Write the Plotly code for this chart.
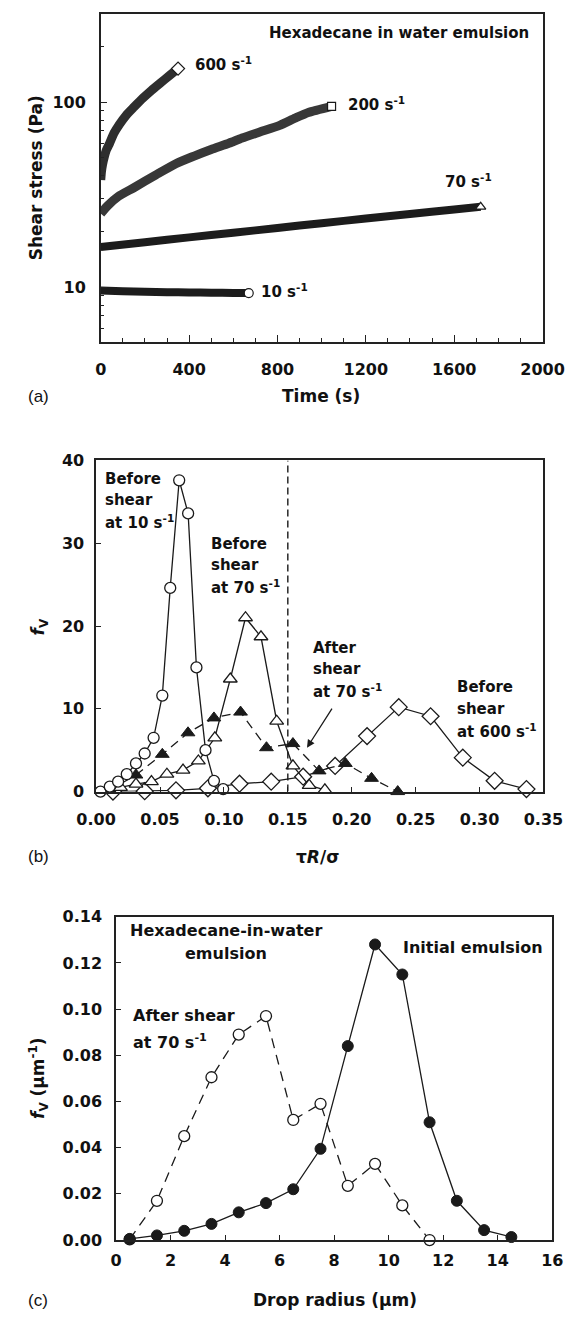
import math
import plotly.graph_objects as go

# ---------------- Panel (a): shear stress vs time ----------------
TIME_600 = [0, 3, 8, 15, 25, 40, 60, 85, 115, 150, 190, 230, 270, 310, 350]
STRESS_600 = [38, 42, 46, 50, 55, 60, 68, 76, 85, 94, 105, 116, 127, 139, 152]
TIME_200 = [0, 30, 80, 150, 250, 340, 420, 500, 580, 640, 720, 810, 880, 940, 1045]
STRESS_200 = [25, 27.5, 31, 34.5, 40.5, 46.5, 51, 55.5, 60, 64, 69, 75, 82, 88, 95]
TIME_70 = [0, 200, 400, 600, 800, 1000, 1200, 1400, 1600, 1720]
STRESS_70 = [16.5, 17.5, 18.6, 19.7, 20.9, 22.2, 23.5, 24.9, 26.3, 27.2]
TIME_10 = [0, 100, 200, 300, 400, 500, 600, 670]
STRESS_10 = [9.6, 9.5, 9.45, 9.4, 9.38, 9.35, 9.32, 9.3]
A_XTICKS = [0, 400, 800, 1200, 1600, 2000]
A_YTICKS = [10, 100]
A_YMINOR = [6, 7, 8, 9, 20, 30, 40, 50, 60, 70, 80, 90, 200]

# ---------------- Panel (b): f_V vs tau R / sigma ----------------
B10_X = [0.0034, 0.0107, 0.0172, 0.024, 0.0312, 0.038, 0.045, 0.0518, 0.058, 0.065, 0.072, 0.0785, 0.0856, 0.0922, 0.0994]
B10_Y = [0, 0.6, 1.2, 2.1, 3.4, 4.6, 6.5, 11.6, 24.6, 37.6, 33.6, 15.0, 5.0, 1.3, 0.3]
B70_X = [0.0191, 0.0312, 0.0433, 0.0554, 0.068, 0.080, 0.0929, 0.105, 0.1169, 0.129, 0.1413, 0.154, 0.1667, 0.179]
B70_Y = [0.5, 0.9, 1.2, 2.1, 2.6, 3.7, 6.5, 13.6, 21.0, 18.7, 8.5, 3.1, 0.75, 0.2]
A70_X = [0.0107, 0.0312, 0.0518, 0.0719, 0.0922, 0.113, 0.1333, 0.154, 0.1745, 0.195, 0.2155, 0.236]
A70_Y = [0.2, 2.0, 4.5, 7.1, 8.9, 9.6, 5.3, 5.8, 2.5, 3.4, 1.6, 0.0]
B600_X = [0.0132, 0.038, 0.0625, 0.0875, 0.1122, 0.137, 0.162, 0.187, 0.212, 0.2368, 0.2617, 0.2869, 0.3118, 0.3367]
B600_Y = [0.0, 0.05, 0.15, 0.4, 0.95, 1.2, 1.8, 3.1, 6.7, 10.2, 9.1, 4.1, 1.3, 0.3]
CRITICAL_X = 0.15
B_XTICKS = [0.00, 0.05, 0.10, 0.15, 0.20, 0.25, 0.30, 0.35]
B_YTICKS = [0, 10, 20, 30, 40]

# ---------------- Panel (c): f_V vs drop radius ----------------
RADIUS = [0.5, 1.5, 2.5, 3.5, 4.5, 5.5, 6.5, 7.5, 8.5, 9.5, 10.5, 11.5, 12.5, 13.5, 14.5]
FV_INITIAL = [0.0005, 0.002, 0.004, 0.007, 0.012, 0.016, 0.022, 0.0395, 0.084, 0.128, 0.115, 0.051, 0.017, 0.0043, 0.0013]
RADIUS_SHEAR = [0.5, 1.5, 2.5, 3.5, 4.5, 5.5, 6.5, 7.5, 8.5, 9.5, 10.5, 11.5]
FV_SHEAR = [0.0003, 0.017, 0.045, 0.0705, 0.089, 0.097, 0.052, 0.059, 0.0235, 0.033, 0.015, 0.0]
C_XTICKS = [0, 2, 4, 6, 8, 10, 12, 14, 16]
C_YTICKS = [0.00, 0.02, 0.04, 0.06, 0.08, 0.10, 0.12, 0.14]

W, H = 584, 1322
INK = "#1a1a1a"
FAM = "DejaVu Sans"


def fx(p):
    return p / W


def fy(p):
    return 1 - p / H


fig = go.Figure()

# ---- panel (a) traces: dense measurement bands + open end marker
bands = [
    (TIME_600, STRESS_600, "#2e2e2e", 9, "diamond", 10),
    (TIME_200, STRESS_200, "#383838", 9, "square", 8),
    (TIME_70, STRESS_70, "#1c1c1c", 8, "triangle-up", 9),
    (TIME_10, STRESS_10, "#1c1c1c", 8, "circle", 9),
]
for t, s, col, w, sym, ms in bands:
    fig.add_trace(go.Scatter(x=t, y=s, mode="lines", line=dict(color=col, width=w, shape="spline", smoothing=0.6),
                             xaxis="x", yaxis="y", showlegend=False, hoverinfo="skip"))
    fig.add_trace(go.Scatter(x=t[-1:], y=s[-1:], mode="markers",
                             marker=dict(symbol=sym, size=ms, color="white", line=dict(color=INK, width=1.2)),
                             xaxis="x", yaxis="y", showlegend=False, cliponaxis=False))

# ---- panel (b) traces
dash_b = "9px,6px"
fig.add_trace(go.Scatter(x=B600_X, y=B600_Y, mode="lines+markers", xaxis="x2", yaxis="y2",
                         line=dict(color=INK, width=1.3),
                         marker=dict(symbol="diamond", size=13, color="white", line=dict(color=INK, width=1.3)),
                         showlegend=False, cliponaxis=False))
fig.add_trace(go.Scatter(x=B70_X, y=B70_Y, mode="lines+markers", xaxis="x2", yaxis="y2",
                         line=dict(color=INK, width=1.3),
                         marker=dict(symbol="triangle-up", size=12, color="white", line=dict(color=INK, width=1.3)),
                         showlegend=False, cliponaxis=False))
fig.add_trace(go.Scatter(x=A70_X, y=A70_Y, mode="lines+markers", xaxis="x2", yaxis="y2",
                         line=dict(color=INK, width=1.3, dash=dash_b),
                         marker=dict(symbol="triangle-up", size=12, color=INK, line=dict(color=INK, width=1)),
                         showlegend=False, cliponaxis=False))
fig.add_trace(go.Scatter(x=B10_X, y=B10_Y, mode="lines+markers", xaxis="x2", yaxis="y2",
                         line=dict(color=INK, width=1.3),
                         marker=dict(symbol="circle", size=11, color="white", line=dict(color=INK, width=1.3)),
                         showlegend=False, cliponaxis=False))

# ---- panel (c) traces
fig.add_trace(go.Scatter(x=RADIUS_SHEAR, y=FV_SHEAR, mode="lines+markers", xaxis="x3", yaxis="y3",
                         line=dict(color=INK, width=1.3, dash="10px,7px"),
                         marker=dict(symbol="circle", size=11, color="white", line=dict(color=INK, width=1.3)),
                         showlegend=False, cliponaxis=False))
fig.add_trace(go.Scatter(x=RADIUS, y=FV_INITIAL, mode="lines+markers", xaxis="x3", yaxis="y3",
                         line=dict(color=INK, width=1.3),
                         marker=dict(symbol="circle", size=11, color=INK, line=dict(color=INK, width=1)),
                         showlegend=False, cliponaxis=False))

tickfont = dict(family=FAM, size=16, weight="bold", color="#111")
common = dict(showline=True, linecolor="#222", linewidth=1.5, mirror=True, ticks="inside",
              tickcolor="#222", tickwidth=1.3, showgrid=False, zeroline=False, tickfont=tickfont)

fig.update_layout(
    width=W, height=H, margin=dict(l=0, r=0, t=0, b=0),
    paper_bgcolor="white", plot_bgcolor="white", showlegend=False,
    xaxis=dict(domain=[fx(87), fx(563)], anchor="y", range=[0, 2000], tickmode="array",
               tickvals=A_XTICKS, ticklen=7, ticklabelstandoff=12,
               minor=dict(dtick=100, tick0=0, ticks="inside", ticklen=4, tickcolor="#222"), **common),
    yaxis=dict(domain=[fy(338), fy(5)], anchor="x", type="log",
               range=[math.log10(5.05), math.log10(300)], tickmode="array", tickvals=A_YTICKS,
               ticktext=[str(v) for v in A_YTICKS], ticklen=7, ticklabelstandoff=10,
               minor=dict(tickmode="array", tickvals=A_YMINOR, ticks="inside", ticklen=4, tickcolor="#222"),
               **common),
    xaxis2=dict(domain=[fx(82), fx(564)], anchor="y2", range=[0, 0.35], tickmode="array",
                tickvals=B_XTICKS, ticktext=[f"{v:.2f}" for v in B_XTICKS], ticklen=5,
                ticklabelstandoff=12, **common),
    yaxis2=dict(domain=[fy(794), fy(458)], anchor="x2", range=[0, 40], tickmode="array",
                tickvals=B_YTICKS, ticklen=5, ticklabelstandoff=7, **common),
    xaxis3=dict(domain=[fx(103.5), fx(573.5)], anchor="y3", range=[0, 16], tickmode="array",
                tickvals=C_XTICKS, ticklen=5, ticklabelstandoff=5, **common),
    yaxis3=dict(domain=[fy(1249), fy(921)], anchor="x3", range=[0, 0.14], tickmode="array",
                tickvals=C_YTICKS, ticktext=[f"{v:.2f}" for v in C_YTICKS], ticklen=5,
                ticklabelstandoff=9, **common),
)

fig.add_shape(type="line", xref="x2", yref="y2", x0=CRITICAL_X, x1=CRITICAL_X,
              y0=B_YTICKS[0], y1=B_YTICKS[-1], line=dict(color=INK, width=1.4, dash="7px,4px"))

ann = []


def txt(text, x, y, xref, yref, size=15, xanchor="left", yanchor="middle", bold=True, angle=0, family=FAM):
    f = dict(family=family, size=size, color="#111")
    if bold:
        text = "<b>" + text + "</b>"
    ann.append(dict(text=text, x=x, y=y, xref=xref, yref=yref, showarrow=False, xanchor=xanchor,
                    yanchor=yanchor, font=f, textangle=angle))


L = math.log10
# panel (a) labels
txt("600 s<sup>-1</sup>", 417, L(160), "x", "y")
txt("200 s<sup>-1</sup>", 1109, L(98), "x", "y")
txt("70 s<sup>-1</sup>", 1550, L(37.5), "x", "y")
txt("10 s<sup>-1</sup>", 718, L(9.5), "x", "y")
txt("Hexadecane in water emulsion", 1946, L(236), "x", "y", xanchor="right")
txt("Shear stress (Pa)", fx(17), fy(171), "paper", "paper", size=17, xanchor="center", angle=-90)
txt("Time (s)", fx(324), fy(393), "paper", "paper", size=17, xanchor="center")
txt("(a)", fx(7), fy(393), "paper", "paper", size=17, bold=False, family="Liberation Sans")

# panel (b) labels
for s_, y_ in [("Before", 37.8), ("shear", 35.2), ("at 10 s<sup>-1</sup>", 32.6)]:
    txt(s_, 0.0051, y_, "x2", "y2")
for s_, y_ in [("Before", 29.9), ("shear", 27.4), ("at 70 s<sup>-1</sup>", 24.7)]:
    txt(s_, 0.0883, y_, "x2", "y2")
for s_, y_ in [("After", 17.3), ("shear", 14.8), ("at 70 s<sup>-1</sup>", 12.2)]:
    txt(s_, 0.1684, y_, "x2", "y2")
for s_, y_ in [("Before", 12.6), ("shear", 10.0), ("at 600 s<sup>-1</sup>", 7.3)]:
    txt(s_, 0.2805, y_, "x2", "y2")
txt("<i>f</i><sub>V</sub>", fx(22), fy(627), "paper", "paper", size=17, xanchor="center", angle=-90)
txt("τ<i>R</i>/σ", fx(321), fy(860), "paper", "paper", size=17, xanchor="center")
txt("(b)", fx(7), fy(860), "paper", "paper", size=17, bold=False, family="Liberation Sans")
ann.append(dict(x=0.165, y=5.3, ax=0.1853, ay=10.2, xref="x2", yref="y2", axref="x2", ayref="y2",
                showarrow=True, arrowhead=2, arrowsize=1.2, arrowwidth=1.3, arrowcolor=INK, text=""))

# panel (c) labels
txt("Hexadecane-in-water", 4.03, 0.134, "x3", "y3", size=16, xanchor="center")
txt("emulsion", 4.03, 0.1243, "x3", "y3", size=16, xanchor="center")
txt("Initial emulsion", 10.45, 0.1269, "x3", "y3", size=16)
txt("After shear", 0.53, 0.0974, "x3", "y3", size=16)
txt("at 70 s<sup>-1</sup>", 0.53, 0.0858, "x3", "y3", size=16)
txt("<i>f</i><sub>V</sub> (μm<sup>-1</sup>)", fx(20), fy(1085), "paper", "paper", size=17,
    xanchor="center", angle=-90)
txt("Drop radius (μm)", fx(339), fy(1310), "paper", "paper", size=17, xanchor="center")
txt("(c)", fx(7), fy(1310), "paper", "paper", size=17, bold=False, family="Liberation Sans")

fig.update_layout(annotations=ann)
fig.write_html("out.html")
